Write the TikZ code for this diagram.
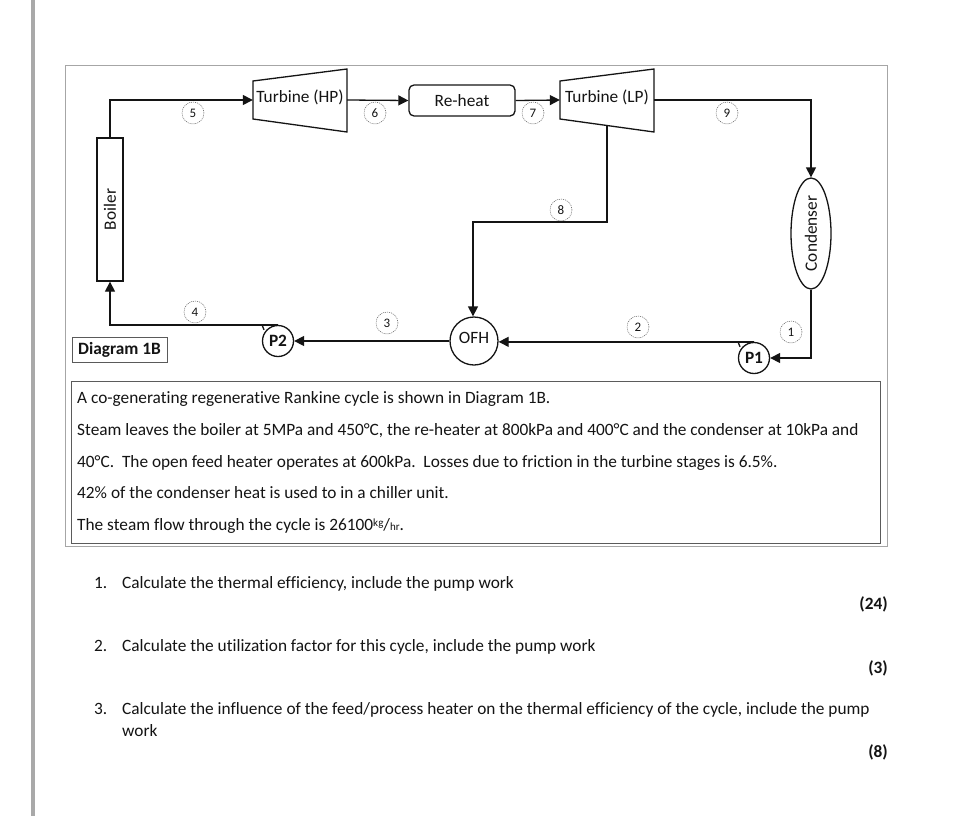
\documentclass[tikz,border=0pt]{standalone}
\usepackage{fontspec}
\setmainfont[Ligatures=NoCommon]{Carlito}
\usetikzlibrary{arrows.meta,positioning,shapes.geometric}
\definecolor{framegray}{HTML}{A6A6A6}
\definecolor{bargray}{HTML}{A9A9A9}
\definecolor{inkblack}{HTML}{141414}

\begin{document}
\begin{tikzpicture}[
  x=1pt,y=-1pt,
  font=\fontsize{17.3}{20}\selectfont,
  text=inkblack,
  unit/.style={draw=inkblack,line width=1.3pt,inner sep=0pt,align=center},
  pump/.style={unit,circle,minimum size=31pt,font=\fontsize{17.3}{20}\selectfont\bfseries},
  turb/.style={inner sep=0pt,minimum width=94pt,minimum height=38pt},
  statept/.style={circle,draw=inkblack!70,dash pattern=on 1pt off 1pt,line width=0.5pt,minimum size=22pt,inner sep=0pt,font=\fontsize{13}{15}\selectfont},
  flow/.style={draw=inkblack,line width=1.3pt,-{Triangle[length=10pt,width=10pt]}},
  para/.style={anchor=base west,inner sep=0pt,font=\fontsize{17.3}{20}\selectfont},
  score/.style={anchor=base east,inner sep=0pt,font=\fontsize{17.3}{20}\selectfont\bfseries}
]
\useasboundingbox[fill=white] (0,0) rectangle (976,816);
\fill[bargray] (31,0) rectangle (35,816);
\draw[framegray,line width=0.8pt] (65.5,65.5) rectangle (887,546);
\draw[inkblack!70,line width=0.8pt] (71.5,381.5) rectangle (880,543);

% plant
\node[unit,minimum width=26pt,minimum height=143pt] (boiler) at (110,209.5) {\rotatebox{90}{Boiler}};
\node[turb] (turbhp) at (300,100) {\raisebox{7pt}{Turbine (HP)}};
\draw[unit] (253,81) -- (347,69) -- (347,132) -- (253,119) -- cycle;
\node[unit,rounded corners=5pt,minimum width=106pt,minimum height=31pt] (reheat) at (462,100.5) {\raisebox{1pt}{Re-heat}};
\node[turb] (turblp) at (607,100) {\raisebox{7pt}{Turbine (LP)}};
\draw[unit] (560,81) -- (654,69) -- (654,132) -- (560,119) -- cycle;
\node[unit,ellipse,minimum width=40pt,minimum height=111pt] (cond) at (811,233.5) {\rotatebox{90}{Condenser}};
\node[unit,circle,minimum size=48pt] (ofh) at (474,341) {\raisebox{6pt}{OFH}};
\node[pump] (ptwo) at (278,341) {P2};
\node[pump] (pone) at (754,358) {P1};
\coordinate (bleed) at (607,126);
\coordinate (bend) at (473,222);

% pipes
\draw[flow] (boiler.north) |- (turbhp.west);
\draw[flow] (turbhp.east) -- (reheat.west);
\draw[flow] (reheat.east) -- (turblp.west);
\draw[flow] (turblp.east) -| (cond.north);
\draw[flow] (bleed) |- (bend) -- (bend |- ofh.north);
\draw[flow] (cond.south) |- (pone.east);
\draw[flow] (pone.north) -- (pone.north -| ofh.east);
\draw[flow] (ofh.west) -- (ptwo.east);
\draw[flow] (ptwo.north) -| (boiler.south);
\draw[unit] (ptwo.north) -- ++(-16,0) -- ++(2,5);
\draw[unit] (pone.north) -- ++(-16,0) -- ++(2,5);

% state points
\node[statept] (s5) at (193,113) {5};
\node[statept] (s6) at (375,113) {6};
\node[statept] (s7) at (533,113) {7};
\node[statept] (s9) at (727,113) {9};
\node[statept] (s8) at (561,210) {8};
\node[statept] (s4) at (195,312) {4};
\node[statept] (s3) at (387,323) {3};
\node[statept] (s2) at (638,327) {2};
\node[statept] (s1) at (791,332) {1};

\node[draw=inkblack!70,line width=0.8pt,minimum width=95pt,minimum height=25pt,inner sep=0pt,font=\fontsize{17.3}{20}\selectfont\bfseries] (dia) at (119.5,349.5) {Diagram 1B};

% statement
\node[para] (l1) at (77,403) {A co-generating regenerative Rankine cycle is shown in Diagram 1B.};
\node[para] (l2) at (77,435) {Steam leaves the boiler at 5MPa and 450°C, the re-heater at 800kPa and 400°C and the condenser at 10kPa and};
\node[para] (l3) at (77,467) {40°C.\ \ The open feed heater operates at 600kPa.\ \ Losses due to friction in the turbine stages is 6.5\%.};
\node[para] (l4) at (77,498) {42\% of the condenser heat is used to in a chiller unit.};
\node[para] (l5) at (77,530) {The steam flow through the cycle is 26100{\fontsize{11}{12}\selectfont\raisebox{4pt}{kg}}/{\fontsize{11}{12}\selectfont hr}.};

% questions
\node[para] (n1) at (94,588) {1.};
\node[para] (q1) at (122,588) {Calculate the thermal efficiency, include the pump work};
\node[score] (m1) at (888,609) {(24)};
\node[para] (n2) at (94,651) {2.};
\node[para] (q2) at (122,651) {Calculate the utilization factor for this cycle, include the pump work};
\node[score] (m2) at (888,673) {(3)};
\node[para] (n3) at (94,714) {3.};
\node[para] (q3) at (122,714) {Calculate the influence of the feed/process heater on the thermal efficiency of the cycle, include the pump};
\node[para] (q3b) at (122,736) {work};
\node[score] (m3) at (888,757) {(8)};
\end{tikzpicture}
\end{document}
